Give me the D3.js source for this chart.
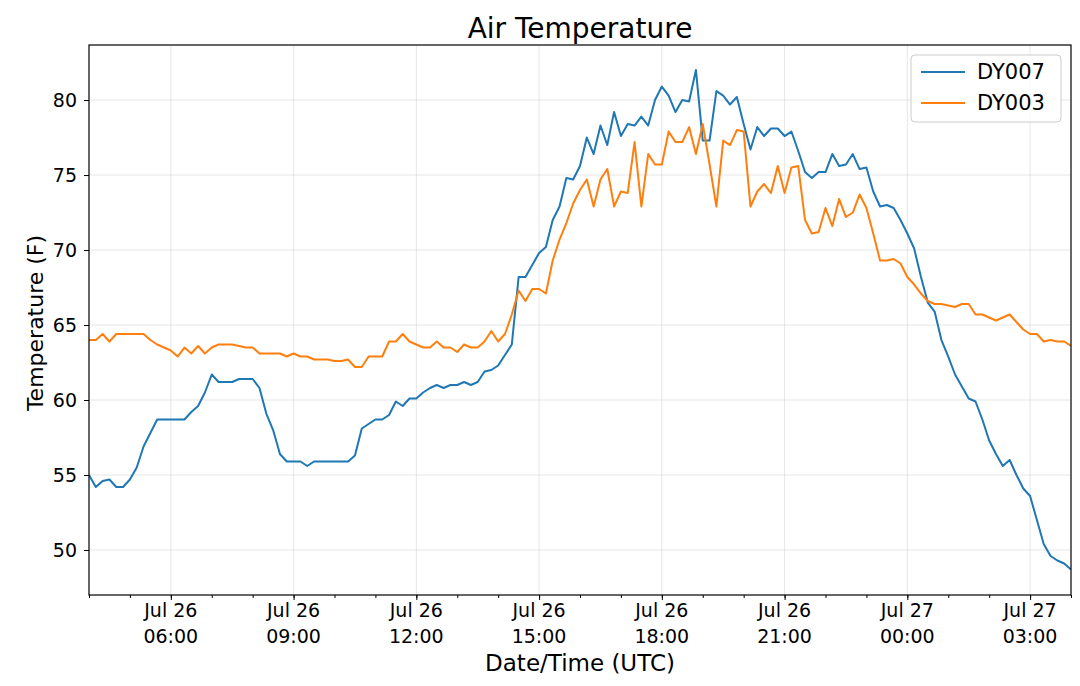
<!DOCTYPE html>
<html>
<head>
<meta charset="utf-8">
<script src="https://cdn.jsdelivr.net/npm/d3@7"></script>
<style>
  body { margin: 0; background: #fff; }
  svg { font-family: "DejaVu Sans", sans-serif; }
</style>
</head>
<body>
<svg id="chart" width="1080" height="686"></svg>
<script>
// 10-minute readings, Jul 26 04:00 UTC to Jul 27 04:00 UTC
const startTime = Date.UTC(2019, 6, 26, 4, 0);
const stepMinutes = 10;

const dy007 = [
  55.0, 54.2, 54.6, 54.7, 54.2, 54.2, 54.7, 55.5, 56.9, 57.8,
  58.7, 58.7, 58.7, 58.7, 58.7, 59.2, 59.6, 60.5, 61.7, 61.2,
  61.2, 61.2, 61.4, 61.4, 61.4, 60.8, 59.1, 58.0, 56.4, 55.9,
  55.9, 55.9, 55.6, 55.9, 55.9, 55.9, 55.9, 55.9, 55.9, 56.3,
  58.1, 58.4, 58.7, 58.7, 59.0, 59.9, 59.6, 60.1, 60.1, 60.5,
  60.8, 61.0, 60.8, 61.0, 61.0, 61.2, 61.0, 61.2, 61.9, 62.0,
  62.3, 63.0, 63.7, 68.2, 68.2, 69.0, 69.8, 70.2, 72.0, 72.9,
  74.8, 74.7, 75.6, 77.5, 76.4, 78.3, 77.0, 79.2, 77.6, 78.4,
  78.3, 78.9, 78.3, 80.0, 80.9, 80.3, 79.2, 80.0, 79.9, 82.0,
  77.3, 77.3, 80.6, 80.3, 79.7, 80.2, 78.4, 76.7, 78.2, 77.6,
  78.1, 78.1, 77.6, 77.9, 76.6, 75.2, 74.8, 75.2, 75.2, 76.4,
  75.6, 75.7, 76.4, 75.4, 75.5, 73.9, 72.9, 73.0, 72.8, 72.0,
  71.1, 70.1, 68.2, 66.5, 65.9, 64.0, 62.9, 61.7, 60.9, 60.1,
  59.9, 58.7, 57.3, 56.4, 55.6, 56.0, 55.0, 54.1, 53.6, 52.0,
  50.4, 49.6, 49.3, 49.1, 48.7
];

const dy003 = [
  64.0, 64.0, 64.4, 63.9, 64.4, 64.4, 64.4, 64.4, 64.4, 64.0,
  63.7, 63.5, 63.3, 62.9, 63.5, 63.1, 63.6, 63.1, 63.5, 63.7,
  63.7, 63.7, 63.6, 63.5, 63.5, 63.1, 63.1, 63.1, 63.1, 62.9,
  63.1, 62.9, 62.9, 62.7, 62.7, 62.7, 62.6, 62.6, 62.7, 62.2,
  62.2, 62.9, 62.9, 62.9, 63.9, 63.9, 64.4, 63.9, 63.7, 63.5,
  63.5, 63.9, 63.5, 63.5, 63.2, 63.7, 63.5, 63.5, 63.9, 64.6,
  63.9, 64.4, 65.7, 67.3, 66.6, 67.4, 67.4, 67.1, 69.3, 70.7,
  71.8, 73.1, 74.0, 74.7, 72.9, 74.7, 75.4, 72.9, 73.9, 73.8,
  77.2, 72.9, 76.4, 75.7, 75.7, 77.9, 77.2, 77.2, 78.2, 76.4,
  78.4, 75.7, 72.9, 77.3, 77.0, 78.0, 77.9, 72.9, 73.9, 74.4,
  73.8, 75.6, 73.8, 75.5, 75.6, 72.0, 71.1, 71.2, 72.8, 71.6,
  73.4, 72.2, 72.5, 73.7, 72.8, 71.1, 69.3, 69.3, 69.4, 69.1,
  68.2, 67.7, 67.1, 66.6, 66.4, 66.4, 66.3, 66.2, 66.4, 66.4,
  65.7, 65.7, 65.5, 65.3, 65.5, 65.7, 65.2, 64.7, 64.4, 64.4,
  63.9, 64.0, 63.9, 63.9, 63.6
];

const seriesNames = ["DY007", "DY003"];
const seriesColors = ["#1f77b4", "#ff7f0e"];
const yTicks = [50, 55, 60, 65, 70, 75, 80];

const svg = d3.select("#chart");
const margin = { left: 89, right: 1071, top: 45, bottom: 595 };

const times = dy007.map((_, i) => new Date(startTime + i * stepMinutes * 60000));

const x = d3.scaleUtc()
    .domain(d3.extent(times))
    .range([margin.left, margin.right]);

const y = d3.scaleLinear()
    .domain([47.0, 83.67])
    .range([margin.bottom, margin.top]);

// grid
const grid = svg.append("g").attr("stroke", "#b0b0b0").attr("stroke-opacity", 0.3).attr("stroke-width", 1);
grid.selectAll(".gx")
    .data(x.ticks(d3.utcHour.every(3)))
    .join("line")
    .attr("x1", d => x(d)).attr("x2", d => x(d))
    .attr("y1", margin.top).attr("y2", margin.bottom);
grid.selectAll(".gy")
    .data(yTicks)
    .join("line")
    .attr("x1", margin.left).attr("x2", margin.right)
    .attr("y1", d => y(d)).attr("y2", d => y(d));

// lines
const line = d3.line()
    .x((d, i) => x(times[i]))
    .y(d => y(d));

svg.append("defs").append("clipPath").attr("id", "clip")
    .append("rect")
    .attr("x", margin.left).attr("y", margin.top)
    .attr("width", margin.right - margin.left).attr("height", margin.bottom - margin.top);

[dy007, dy003].forEach((values, k) => {
    svg.append("path")
        .datum(values)
        .attr("clip-path", "url(#clip)")
        .attr("fill", "none")
        .attr("stroke", seriesColors[k])
        .attr("stroke-width", 2)
        .attr("stroke-linejoin", "round")
        .attr("d", line);
});

// axes
const fmtDay = d3.utcFormat("%b %d");
const fmtHour = d3.utcFormat("%H:%M");

const xAxis = svg.append("g")
    .attr("transform", `translate(0,${margin.bottom})`)
    .call(d3.axisBottom(x).ticks(d3.utcHour.every(3)).tickSize(5).tickFormat(""));
xAxis.select(".domain").remove();
xAxis.selectAll(".tick line").attr("stroke", "#000");

const xLabels = svg.append("g").attr("font-size", 19).attr("text-anchor", "middle").attr("fill", "#000");
xLabels.selectAll("text")
    .data(x.ticks(d3.utcHour.every(3)))
    .join("text")
    .attr("x", d => x(d))
    .attr("y", 617)
    .call(t => t.append("tspan").attr("x", d => x(d)).text(d => fmtDay(d)))
    .call(t => t.append("tspan").attr("x", d => x(d)).attr("dy", 26).text(d => fmtHour(d)));

const minor = svg.append("g")
    .attr("transform", `translate(0,${margin.bottom})`)
    .call(d3.axisBottom(x).ticks(d3.utcHour.every(1)).tickSize(3).tickFormat(""));
minor.select(".domain").remove();
minor.selectAll(".tick line").attr("stroke", "#000");

const yAxis = svg.append("g")
    .attr("transform", `translate(${margin.left},0)`)
    .call(d3.axisLeft(y).tickValues(yTicks).tickSize(5).tickPadding(7));
yAxis.select(".domain").remove();
yAxis.selectAll(".tick line").attr("stroke", "#000");
yAxis.selectAll(".tick text").attr("font-size", 19).attr("fill", "#000")
    .attr("font-family", "DejaVu Sans, sans-serif");

// frame
svg.append("rect")
    .attr("x", margin.left).attr("y", margin.top)
    .attr("width", margin.right - margin.left).attr("height", margin.bottom - margin.top)
    .attr("fill", "none").attr("stroke", "#000").attr("stroke-width", 1.2);

// titles
svg.append("text")
    .attr("x", (margin.left + margin.right) / 2).attr("y", 38)
    .attr("text-anchor", "middle").attr("font-size", 28)
    .text("Air Temperature");

svg.append("text")
    .attr("x", (margin.left + margin.right) / 2).attr("y", 671)
    .attr("text-anchor", "middle").attr("font-size", 23)
    .text("Date/Time (UTC)");

svg.append("text")
    .attr("transform", `translate(43,${(margin.top + margin.bottom) / 2 + 3}) rotate(-90)`)
    .attr("text-anchor", "middle").attr("font-size", 22)
    .text("Temperature (F)");

// legend
const legend = svg.append("g").attr("transform", "translate(911,55)");
legend.append("rect")
    .attr("width", 150).attr("height", 67).attr("rx", 4)
    .attr("fill", "#fff").attr("fill-opacity", 0.8)
    .attr("stroke", "#cccccc");
seriesNames.forEach((name, k) => {
    const yy = 17 + k * 31;
    legend.append("line")
        .attr("x1", 10).attr("x2", 54).attr("y1", yy).attr("y2", yy)
        .attr("stroke", seriesColors[k]).attr("stroke-width", 2);
    legend.append("text")
        .attr("x", 66).attr("y", yy + 7)
        .attr("font-size", 21)
        .text(name);
});
</script>
</body>
</html>
